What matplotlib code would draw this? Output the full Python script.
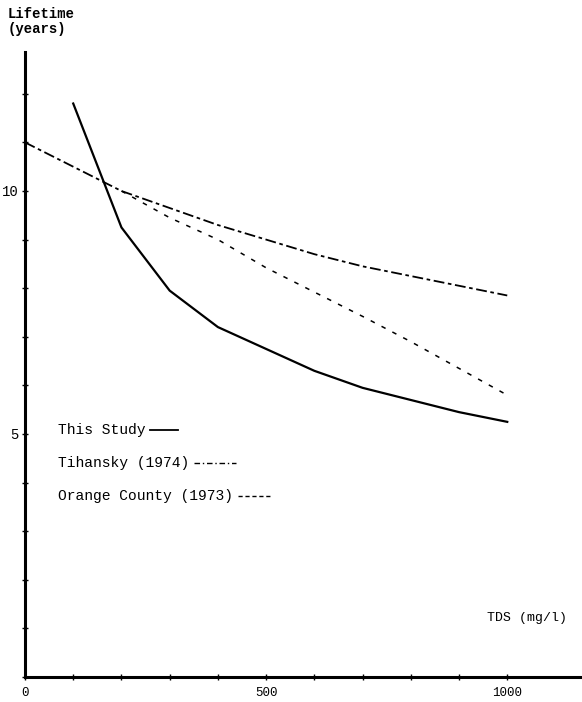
import matplotlib
matplotlib.use("Agg")
from matplotlib import pyplot as plt
from matplotlib.lines import Line2D

# TDS (mg/l) vs membrane lifetime (years)
study_tds = [100, 200, 300, 400, 500, 600, 700, 800, 900, 1000]
study_life = [11.8, 9.25, 7.95, 7.2, 6.75, 6.3, 5.95, 5.7, 5.45, 5.25]

tihansky_tds = [0, 100, 200, 300, 400, 500, 600, 700, 800, 900, 1000]
tihansky_life = [11.0, 10.5, 10.0, 9.65, 9.3, 9.0, 8.7, 8.45, 8.25, 8.05, 7.85]

orange_tds = [200, 300, 400, 500, 600, 700, 800, 900, 1000]
orange_life = [10.0, 9.45, 9.0, 8.42, 7.92, 7.42, 6.9, 6.35, 5.8]

x_ticks = list(range(0, 1100, 100))
x_labels = ["0", "", "", "", "", "500", "", "", "", "", "1000"]
y_ticks = list(range(0, 13))
y_labels = ["" if v not in (5, 10) else str(v) for v in y_ticks]

FONT = "Liberation Mono"

fig = plt.figure(figsize=(5.82, 7.02), dpi=100)
ax = fig.add_axes([25 / 582, 25 / 702, 557 / 582, 625 / 702])

ax.plot(study_tds, study_life, color="black", lw=1.6)
ax.plot(tihansky_tds, tihansky_life, color="black", lw=1.3,
        linestyle=(0, (6, 2, 2, 2)))
ax.plot(orange_tds, orange_life, color="black", lw=1.1,
        linestyle=(0, (3, 5)))

ax.set_xlim(0, 1155)
ax.set_ylim(0, 12.86)
for side in ("top", "right"):
    ax.spines[side].set_visible(False)
for side in ("left", "bottom"):
    ax.spines[side].set_linewidth(2.2)

ax.set_xticks(x_ticks)
ax.set_xticklabels(x_labels, fontfamily=FONT, fontsize=9)
ax.set_yticks(y_ticks)
ax.set_yticklabels(y_labels, fontfamily=FONT, fontsize=10)
ax.tick_params(axis="both", direction="inout", length=5, width=1)
ax.tick_params(axis="x", pad=5)
ax.tick_params(axis="y", pad=2)

fig.text(8 / 582, 1 - 7 / 702, "Lifetime\n(years)", fontfamily=FONT,
         fontsize=10, fontweight="bold", va="top", ha="left", linespacing=1.1)
ax.text(0.83, 0.094, "TDS (mg/l)", transform=ax.transAxes, fontfamily=FONT,
        fontsize=9.5, ha="left", va="center")

# hand-made legend: label followed by a line sample
entries = [
    ("This Study", "-", 1.3, 0.05),
    ("Tihansky (1974)", (0, (4, 2, 1, 2)), 1.0, 0.075),
    ("Orange County (1973)", (0, (3, 2)), 1.0, 0.058),
]
fig.canvas.draw()
renderer = fig.canvas.get_renderer()
inv = ax.transAxes.inverted()
for i, (label, style, lw, line_len) in enumerate(entries):
    y = 0.395 - i * 0.053
    t = ax.text(0.060, y, label, transform=ax.transAxes, fontfamily=FONT,
                fontsize=10.5, ha="left", va="center")
    bb = t.get_window_extent(renderer)
    x_end = inv.transform((bb.x1, bb.y0))[0]
    ax.add_line(Line2D([x_end + 0.008, x_end + 0.008 + line_len], [y, y],
                       transform=ax.transAxes, color="black", lw=lw,
                       linestyle=style))

fig.savefig("out.png", dpi=100)
